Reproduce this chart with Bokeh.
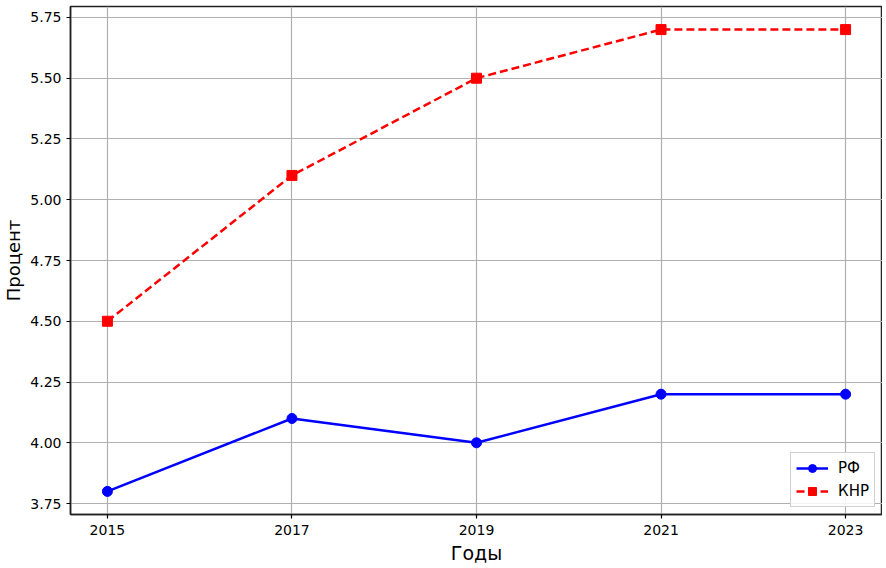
from bokeh.plotting import figure
from bokeh.models import Range1d, FixedTicker, Legend, LegendItem, CustomJSTickFormatter
from bokeh.embed import file_html
from bokeh.resources import INLINE

years = [2015, 2017, 2019, 2021, 2023]
rf = [3.8, 4.1, 4.0, 4.2, 4.2]
knr = [4.5, 5.1, 5.5, 5.7, 5.7]
y_ticks = [3.75, 4.00, 4.25, 4.50, 4.75, 5.00, 5.25, 5.50, 5.75]

FONT = "DejaVu Sans"

p = figure(width=882, height=568, output_backend="svg", toolbar_location=None,
           x_range=Range1d(2014.6, 2023.4), y_range=Range1d(3.705, 5.795),
           min_border_left=63, min_border_right=0, min_border_top=6, min_border_bottom=54)

p.outline_line_color = "#222222"
p.outline_line_width = 1.5

for ax in (p.xaxis[0], p.yaxis[0]):
    ax.major_label_text_font = FONT
    ax.major_label_text_font_size = "14px"
    ax.major_label_text_color = "black"
    ax.axis_label_text_font = FONT
    ax.axis_label_text_font_style = "normal"
    ax.axis_label_text_color = "black"
    ax.minor_tick_line_color = None
    ax.major_tick_out = 4
    ax.major_tick_in = 0
    ax.major_tick_line_width = 1.2
    ax.axis_line_color = "#222222"
    ax.axis_line_width = 1.5

p.xaxis.ticker = FixedTicker(ticks=years)
p.yaxis.ticker = FixedTicker(ticks=y_ticks)
p.yaxis.formatter = CustomJSTickFormatter(code="return tick.toFixed(2);")
p.xaxis.axis_label = "Годы"
p.yaxis.axis_label = "Процент"
p.xaxis.axis_label_text_font_size = "19px"
p.yaxis.axis_label_text_font_size = "18px"
p.xaxis.axis_label_standoff = 4
p.yaxis.axis_label_standoff = 3
p.xaxis.major_label_standoff = 6
p.yaxis.major_label_standoff = 5

p.grid.grid_line_color = "#b0b0b0"
p.grid.grid_line_width = 1.2

l1 = p.line(years, rf, line_color="blue", line_width=2.5)
m1 = p.scatter(years, rf, marker="circle", size=10, fill_color="blue", line_color="blue")
l2 = p.line(years, knr, line_color="red", line_width=2.5, line_dash="8 4")
m2 = p.scatter(years, knr, marker="square", size=10, fill_color="red", line_color="red")

legend = Legend(items=[LegendItem(label="РФ", renderers=[l1, m1]),
                       LegendItem(label="КНР", renderers=[l2, m2])],
                location="bottom_right")
legend.label_text_font = FONT
legend.label_text_font_size = "15px"
legend.label_text_color = "black"
legend.border_line_color = "#d0d0d0"
legend.border_line_alpha = 1
legend.background_fill_alpha = 0.85
legend.glyph_width = 32
legend.glyph_height = 20
legend.label_standoff = 10
legend.spacing = 3
legend.padding = 5
legend.margin = 7
p.add_layout(legend)

open("out.html", "w").write(file_html(p, INLINE))
